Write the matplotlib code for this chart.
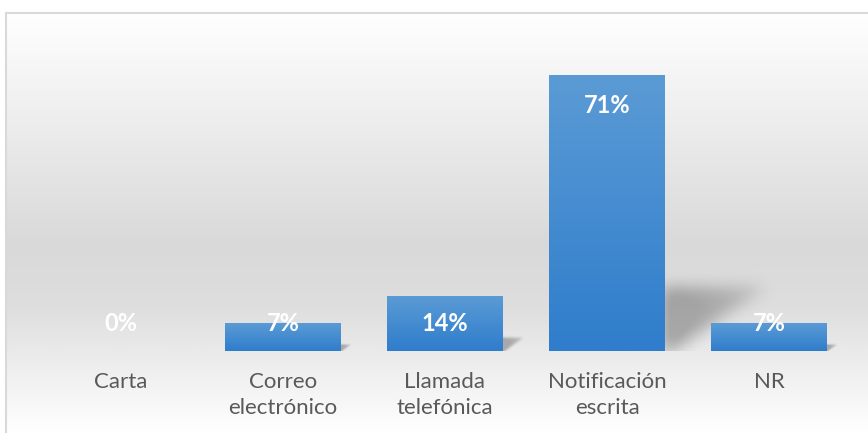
import numpy as np
import matplotlib
matplotlib.use("Agg")
import matplotlib.pyplot as plt
from matplotlib.colors import LinearSegmentedColormap

# data
categories = ["Carta", "Correo\nelectrónico", "Llamada\ntelefónica", "Notificación\nescrita", "NR"]
values = [0.0, 7.14, 14.29, 71.43, 7.14]
labels = ["0%", "7%", "14%", "71%", "7%"]

plt.rcParams['font.family'] = ['Lato', 'DejaVu Sans']

W, H = 868, 433
fig = plt.figure(figsize=(W / 100, H / 100), dpi=100, facecolor="white")

# chart frame with vertical grey gradient
bg = fig.add_axes([6 / W, 0, 1 - 6 / W, (H - 13) / H])
bg_cmap = LinearSegmentedColormap.from_list(
    "bg", [(0, "#ffffff"), (0.55, "#d9d9d9"), (0.7, "#dedede"), (1, "#ffffff")])
grad = np.linspace(0, 1, 400).reshape(-1, 1)
bg.imshow(grad, aspect="auto", cmap=bg_cmap, extent=(0, 1, 0, 1), origin="upper")
bg.set_xlim(0, 1)
bg.set_ylim(0, 1)
bg.set_xticks([])
bg.set_yticks([])
for side in ["right", "bottom"]:
    bg.spines[side].set_visible(False)
for side in ["left", "top"]:
    bg.spines[side].set_color("#d9d9d9")
    bg.spines[side].set_linewidth(1.5)

ax = fig.add_axes([40 / W, 82 / H, 810 / W, 309 / H])
ax.patch.set_alpha(0)
ax.set_xlim(-0.5, 4.5)
ax.set_ylim(0, 80)

x = np.arange(len(categories))
bw = 0.716
bars = ax.bar(x, values, width=bw, color="#4a8fd3", zorder=3)


def blur(m, n):
    k = np.ones(n) / n
    for _ in range(3):
        m = np.apply_along_axis(lambda r: np.convolve(r, k, mode="same"), 1, m)
        m = np.apply_along_axis(lambda c: np.convolve(c, k, mode="same"), 0, m)
    return m


# soft perspective shadows behind the bars
sh_w, sh_h = 0.586, 0.232
nx, ny = 300, 240
for b, v in zip(bars, values):
    if v <= 0:
        continue
    s = v / 71.43
    x0 = b.get_x() + bw
    tip_x = x0 + sh_w * s
    top_y = sh_h * v
    pad_x, pad_y = 0.2 * s + 0.04, 7.0 * s + 1.5
    ex = (x0 - pad_x, tip_x + pad_x, -pad_y, top_y + pad_y)
    gx = np.linspace(ex[0], ex[1], nx)
    gy = np.linspace(ex[2], ex[3], ny)
    XX, YY = np.meshgrid(gx, gy)
    inside = (XX >= x0 - 0.02) & (YY >= -0.3) & (YY <= top_y) & \
             ((XX - x0) / (tip_x - x0) <= YY / top_y + 0.08)
    m = blur(inside.astype(float), 27 if s > 0.5 else 15)
    # darker near the bar, fading toward the tip
    fade = np.clip(1 - 0.5 * (XX - x0) / (tip_x - x0), 0.3, 1)
    rgba = np.zeros((ny, nx, 4))
    rgba[..., :3] = 0.42
    rgba[..., 3] = np.clip(m * fade * 0.6, 0, 0.5)
    ax.imshow(rgba, extent=ex, origin="lower", aspect="auto", zorder=2,
              interpolation="bilinear")

# blue vertical gradient on each bar
bar_cmap = LinearSegmentedColormap.from_list("bar", ["#2f7dcc", "#5b9bd5"])
for b in bars:
    if b.get_height() <= 0:
        continue
    im = ax.imshow(np.linspace(0, 1, 100).reshape(-1, 1), cmap=bar_cmap, aspect="auto",
                   origin="lower", zorder=4,
                   extent=(b.get_x(), b.get_x() + bw, 0, b.get_height()))
    im.set_clip_path(b)

ax.set_xlim(-0.5, 4.5)
ax.set_ylim(0, 80)

# value labels, white bold, inside the top of each bar
for xi, v, t in zip(x, values, labels):
    ax.text(xi, max(v - 7.8, 7.0), t, ha="center", va="center", color="white",
            fontsize=17, fontweight="bold", zorder=5)

ax.set_xticks(x)
ax.set_xticklabels(categories, color="#595959", fontsize=16, linespacing=1.4)
ax.tick_params(axis="x", length=0, pad=15)
ax.set_yticks([])
for sp in ax.spines.values():
    sp.set_visible(False)

fig.savefig("out.png", dpi=100, facecolor="white")
